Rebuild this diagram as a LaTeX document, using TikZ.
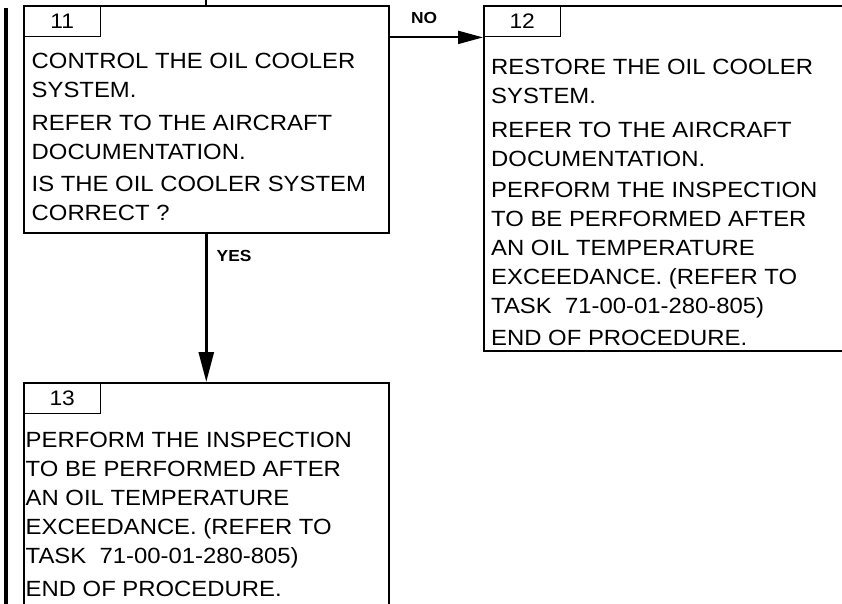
\documentclass[tikz,border=0pt]{standalone}
\usepackage{fontspec}
\setmainfont{Liberation Sans}[FakeStretch=1.085]
\usetikzlibrary{arrows.meta, positioning}

\begin{document}
\begin{tikzpicture}[x=1pt, y=-1pt,
    stepbox/.style={draw, line width=1.6pt, anchor=north west, inner sep=0pt},
    numtab/.style={draw, line width=1.4pt, anchor=north west, minimum width=77pt, minimum height=31pt, inner sep=0pt, font=\fontsize{21}{24}\selectfont},
    stepnote/.style={anchor=north west, align=left, inner sep=0pt, font=\fontsize{22}{29}\selectfont},
    answer/.style={inner sep=2pt, font=\bfseries\fontsize{16}{18}\selectfont},
    arrow/.style={-{Triangle[length=30pt, width=15pt]}, line width=2.8pt},
    noarrow/.style={-{Triangle[length=25pt, width=13pt]}, line width=2pt}
]
\useasboundingbox (0,0) rectangle (842,604);
\clip (0,0) rectangle (842,604);

% Change bar
\draw[line width=4pt] (6,8) -- (6,604);

% Boxes
\node[stepbox, minimum width=365pt, minimum height=227pt] (box11) at (23,5) {};
\node[stepbox, minimum width=420pt, minimum height=345pt] (box12) at (483,5) {};
\node[stepbox, minimum width=365pt, minimum height=260pt] (box13) at (23,382) {};

% Step numbers
\node[numtab] (tab11) at (box11.north west) {11};
\node[numtab] (tab12) at (box12.north west) {12};
\node[numtab] (tab13) at (box13.north west) {13};

% Texts
\node[stepnote] (text11) at (31.5,52.5) {CONTROL THE OIL COOLER\\SYSTEM.\\[4pt]REFER TO THE AIRCRAFT\\DOCUMENTATION.\\[3pt]IS THE OIL COOLER SYSTEM\\CORRECT ?};
\node[stepnote] (text12) at (491,59) {RESTORE THE OIL COOLER\\SYSTEM.\\[5pt]REFER TO THE AIRCRAFT\\DOCUMENTATION.\\[2pt]PERFORM THE INSPECTION\\TO BE PERFORMED AFTER\\AN OIL TEMPERATURE\\EXCEEDANCE. (REFER TO\\TASK~~71-00-01-280-805)\\[3pt]END OF PROCEDURE.};
\node[stepnote] (text13) at (25.5,432) {PERFORM THE INSPECTION\\TO BE PERFORMED AFTER\\AN OIL TEMPERATURE\\EXCEEDANCE. (REFER TO\\TASK~~71-00-01-280-805)\\[4pt]END OF PROCEDURE.};

% Connectors
\coordinate (from10) at (box11.north |- 0,0);
\draw[line width=2pt] (from10) -- (box11.north);
\draw[noarrow] (tab11.south -| box11.east) -- (tab11.south -| box12.west) node[answer, pos=0.37, above=11pt] {NO};
\draw[arrow] (box11.south) -- node[answer, pos=0.15, right=7pt] {YES} (box13.north);

\end{tikzpicture}
\end{document}
